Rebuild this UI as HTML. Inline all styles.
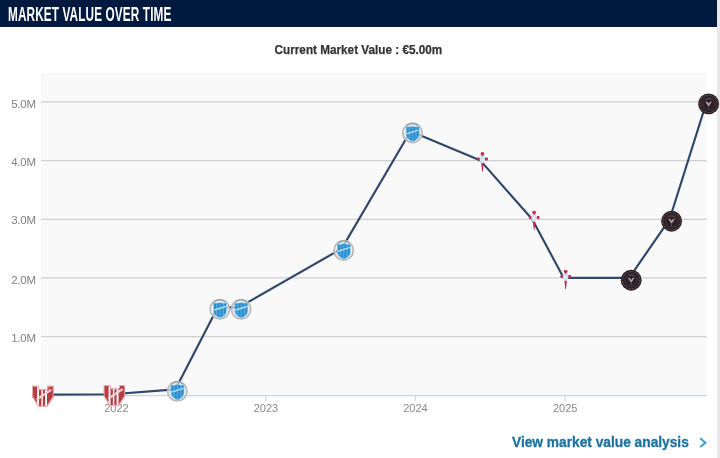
<!DOCTYPE html>
<html lang="en">
<head>
<meta charset="utf-8">
<title>Market value over time</title>
<style>
html,body{margin:0;padding:0;}
body{width:720px;height:458px;overflow:hidden;background:#e8e8e8;font-family:"Liberation Sans",sans-serif;position:relative;}
#box{will-change:transform;position:absolute;left:0;top:0;width:716.8px;height:458px;background:#fff;}
#hdr{position:absolute;left:0;top:0;width:716.8px;height:26.5px;background:#00193f;}
#hdr h2{position:absolute;left:8px;top:1px;margin:0;font-weight:bold;font-size:20.9px;line-height:26px;color:#fff;white-space:nowrap;transform-origin:0 50%;transform:scaleX(0.5645);letter-spacing:0.2px;}
#cur{position:absolute;left:0;top:40.1px;width:716px;text-align:center;font-weight:bold;font-size:12.8px;line-height:20px;color:#333;-webkit-text-stroke:0.25px #333;white-space:nowrap;}
#lnk{position:absolute;left:511.6px;top:430.7px;font-weight:bold;font-size:15.4px;line-height:22px;color:#1f72a0;-webkit-text-stroke:0.35px #1f72a0;white-space:nowrap;text-decoration:none;}
svg{position:absolute;left:0;top:0;}
.ax{font-family:"Liberation Sans",sans-serif;font-size:11px;fill:#888;}
#curt{display:inline-block;transform:scaleX(0.917);transform-origin:50% 50%;}
#lnkt{display:inline-block;transform:scaleX(0.892);transform-origin:0 50%;}
</style>
</head>
<body>
<div id="box">
<div id="hdr"><h2 id="ttl">MARKET VALUE OVER TIME</h2></div>
<div id="cur"><span id="curt">Current Market Value : €5.00m</span></div>
<svg width="720" height="458" viewBox="0 0 720 458">
<rect x="41" y="73" width="665.6" height="322.5" fill="#f9f9f9"/>
<g stroke="#d0d0d0" stroke-width="1.3">
<line x1="41" x2="707" y1="101.9" y2="101.9"/>
<line x1="41" x2="707" y1="160.6" y2="160.6"/>
<line x1="41" x2="707" y1="219.3" y2="219.3"/>
<line x1="41" x2="707" y1="277.9" y2="277.9"/>
<line x1="41" x2="707" y1="336.6" y2="336.6"/>
</g>
<line x1="41" x2="707" y1="395.6" y2="395.6" stroke="#cbd3e3" stroke-width="1.4"/>
<g stroke="#cdd4e2" stroke-width="1.1">
<line x1="116.3" x2="116.3" y1="395.5" y2="401"/>
<line x1="266" x2="266" y1="395.5" y2="401"/>
<line x1="415.5" x2="415.5" y1="395.5" y2="401"/>
<line x1="565.2" x2="565.2" y1="395.5" y2="401"/>
</g>
<g class="ax" text-anchor="end" style="font-size:11.5px;letter-spacing:-0.25px;fill:#808080">
<text x="35.8" y="107.6">5.0M</text>
<text x="35.8" y="165.9">4.0M</text>
<text x="35.8" y="223.9">3.0M</text>
<text x="35.8" y="283.9">2.0M</text>
<text x="35.8" y="341.9">1.0M</text>
</g>
<g class="ax" text-anchor="middle">
<text x="116.4" y="412.2">2022</text>
<text x="266" y="412.2">2023</text>
<text x="415.5" y="412.2">2024</text>
<text x="565.2" y="412.2">2025</text>
</g>
<polyline id="ln" fill="none" stroke="#2f4768" stroke-width="2.15" stroke-linejoin="round" stroke-linecap="round"
 points="41,394.6 112.4,394.3 175.3,389.4 217.8,307.3 239.1,307.3 341.7,248.6 410.5,131.2 480.5,160.6 532.2,219.3 563.7,277.9 629.2,277.9 669.6,219.3 706.6,101.9"/>
<!--MK-->
<g id="markers">
<defs><clipPath id="cI"><path d="M-10.8,-10.5 L-3.9,-10.5 L-3.9,-7.4 Q0.3,-6.2 4.6,-7.4 L4.6,-10.5 L10.8,-10.5 L10.8,0.6 L4.3,10.5 L-4.5,10.5 L-10.8,0.6 Z"/></clipPath></defs>
<g transform="translate(42.9,396.2)"><g clip-path="url(#cI)"><rect x="-11" y="-11" width="22" height="22" fill="#ba3b41"/><rect x="-5.8" y="-11" width="1.9" height="22" fill="#fff"/><rect x="-1.5" y="-11" width="1.4" height="22" fill="#fff"/><rect x="2.2" y="-11" width="1.9" height="22" fill="#fff"/><line x1="-6.2" y1="3.1" x2="8.2" y2="-6.4" stroke="#fbecec" stroke-width="2.0"/><line x1="-6.2" y1="3.1" x2="8.2" y2="-6.4" stroke="#cf6b70" stroke-width="0.8" stroke-dasharray="1.2 1.6"/><path d="M-10.8,-10.5 L-3.9,-10.5 L-3.9,-7.4 Q0.3,-6.2 4.6,-7.4 L4.6,-10.5 L10.8,-10.5 L10.8,0.6 L4.3,10.5 L-4.5,10.5 L-10.8,0.6 Z" fill="none" stroke="#eeb0b3" stroke-width="2.0" stroke-linejoin="round"/></g></g>
<g transform="translate(114.4,395.5)"><g clip-path="url(#cI)"><rect x="-11" y="-11" width="22" height="22" fill="#ba3b41"/><rect x="-5.8" y="-11" width="1.9" height="22" fill="#fff"/><rect x="-1.5" y="-11" width="1.4" height="22" fill="#fff"/><rect x="2.2" y="-11" width="1.9" height="22" fill="#fff"/><line x1="-6.2" y1="3.1" x2="8.2" y2="-6.4" stroke="#fbecec" stroke-width="2.0"/><line x1="-6.2" y1="3.1" x2="8.2" y2="-6.4" stroke="#cf6b70" stroke-width="0.8" stroke-dasharray="1.2 1.6"/><path d="M-10.8,-10.5 L-3.9,-10.5 L-3.9,-7.4 Q0.3,-6.2 4.6,-7.4 L4.6,-10.5 L10.8,-10.5 L10.8,0.6 L4.3,10.5 L-4.5,10.5 L-10.8,0.6 Z" fill="none" stroke="#eeb0b3" stroke-width="2.0" stroke-linejoin="round"/></g></g>
<g transform="translate(177.3,391.2)"><circle r="9.6" fill="#f6f6f6" fill-opacity="0.3" stroke="#b9b9b9" stroke-width="1.9"/><circle r="8.2" fill="none" stroke="#ececec" stroke-width="1.0" stroke-opacity="0.7"/><path d="M-5.6,-7.3 A9.2,9.2 0 0 1 5.9,-7.1" fill="none" stroke="#979da3" stroke-width="1.7" stroke-dasharray="1.3 0.6"/><path d="M-6.4,-6.6 Q-3.2,-5.4 0.2,-6.9 Q3.6,-5.4 6.8,-6.6 L6.8,1.6 C6.8,5.4 3,7.7 0.2,8.9 C-2.6,7.7 -6.4,5.4 -6.4,1.6 Z" fill="#2d8ecf" stroke="#a5d6f2" stroke-width="0.8"/><g stroke="#64b6e6" stroke-width="0.9"><line x1="-3.2" y1="-5.4" x2="-3.2" y2="5.8"/><line x1="0.1" y1="-6" x2="0.1" y2="8.2"/><line x1="3.5" y1="-5.4" x2="3.5" y2="5.8"/></g><line x1="-5.8" y1="1.0" x2="6.2" y2="-2.9" stroke="#bfe6fa" stroke-width="1.3"/></g>
<g transform="translate(219.8,309.2)"><circle r="9.6" fill="#f6f6f6" fill-opacity="0.3" stroke="#b9b9b9" stroke-width="1.9"/><circle r="8.2" fill="none" stroke="#ececec" stroke-width="1.0" stroke-opacity="0.7"/><path d="M-5.6,-7.3 A9.2,9.2 0 0 1 5.9,-7.1" fill="none" stroke="#979da3" stroke-width="1.7" stroke-dasharray="1.3 0.6"/><path d="M-6.4,-6.6 Q-3.2,-5.4 0.2,-6.9 Q3.6,-5.4 6.8,-6.6 L6.8,1.6 C6.8,5.4 3,7.7 0.2,8.9 C-2.6,7.7 -6.4,5.4 -6.4,1.6 Z" fill="#2d8ecf" stroke="#a5d6f2" stroke-width="0.8"/><g stroke="#64b6e6" stroke-width="0.9"><line x1="-3.2" y1="-5.4" x2="-3.2" y2="5.8"/><line x1="0.1" y1="-6" x2="0.1" y2="8.2"/><line x1="3.5" y1="-5.4" x2="3.5" y2="5.8"/></g><line x1="-5.8" y1="1.0" x2="6.2" y2="-2.9" stroke="#bfe6fa" stroke-width="1.3"/></g>
<g transform="translate(241.1,309.2)"><circle r="9.6" fill="#f6f6f6" fill-opacity="0.3" stroke="#b9b9b9" stroke-width="1.9"/><circle r="8.2" fill="none" stroke="#ececec" stroke-width="1.0" stroke-opacity="0.7"/><path d="M-5.6,-7.3 A9.2,9.2 0 0 1 5.9,-7.1" fill="none" stroke="#979da3" stroke-width="1.7" stroke-dasharray="1.3 0.6"/><path d="M-6.4,-6.6 Q-3.2,-5.4 0.2,-6.9 Q3.6,-5.4 6.8,-6.6 L6.8,1.6 C6.8,5.4 3,7.7 0.2,8.9 C-2.6,7.7 -6.4,5.4 -6.4,1.6 Z" fill="#2d8ecf" stroke="#a5d6f2" stroke-width="0.8"/><g stroke="#64b6e6" stroke-width="0.9"><line x1="-3.2" y1="-5.4" x2="-3.2" y2="5.8"/><line x1="0.1" y1="-6" x2="0.1" y2="8.2"/><line x1="3.5" y1="-5.4" x2="3.5" y2="5.8"/></g><line x1="-5.8" y1="1.0" x2="6.2" y2="-2.9" stroke="#bfe6fa" stroke-width="1.3"/></g>
<g transform="translate(343.7,250.4)"><circle r="9.6" fill="#f6f6f6" fill-opacity="0.3" stroke="#b9b9b9" stroke-width="1.9"/><circle r="8.2" fill="none" stroke="#ececec" stroke-width="1.0" stroke-opacity="0.7"/><path d="M-5.6,-7.3 A9.2,9.2 0 0 1 5.9,-7.1" fill="none" stroke="#979da3" stroke-width="1.7" stroke-dasharray="1.3 0.6"/><path d="M-6.4,-6.6 Q-3.2,-5.4 0.2,-6.9 Q3.6,-5.4 6.8,-6.6 L6.8,1.6 C6.8,5.4 3,7.7 0.2,8.9 C-2.6,7.7 -6.4,5.4 -6.4,1.6 Z" fill="#2d8ecf" stroke="#a5d6f2" stroke-width="0.8"/><g stroke="#64b6e6" stroke-width="0.9"><line x1="-3.2" y1="-5.4" x2="-3.2" y2="5.8"/><line x1="0.1" y1="-6" x2="0.1" y2="8.2"/><line x1="3.5" y1="-5.4" x2="3.5" y2="5.8"/></g><line x1="-5.8" y1="1.0" x2="6.2" y2="-2.9" stroke="#bfe6fa" stroke-width="1.3"/></g>
<g transform="translate(412.5,132.9)"><circle r="9.6" fill="#f6f6f6" fill-opacity="0.3" stroke="#b9b9b9" stroke-width="1.9"/><circle r="8.2" fill="none" stroke="#ececec" stroke-width="1.0" stroke-opacity="0.7"/><path d="M-5.6,-7.3 A9.2,9.2 0 0 1 5.9,-7.1" fill="none" stroke="#979da3" stroke-width="1.7" stroke-dasharray="1.3 0.6"/><path d="M-6.4,-6.6 Q-3.2,-5.4 0.2,-6.9 Q3.6,-5.4 6.8,-6.6 L6.8,1.6 C6.8,5.4 3,7.7 0.2,8.9 C-2.6,7.7 -6.4,5.4 -6.4,1.6 Z" fill="#2d8ecf" stroke="#a5d6f2" stroke-width="0.8"/><g stroke="#64b6e6" stroke-width="0.9"><line x1="-3.2" y1="-5.4" x2="-3.2" y2="5.8"/><line x1="0.1" y1="-6" x2="0.1" y2="8.2"/><line x1="3.5" y1="-5.4" x2="3.5" y2="5.8"/></g><line x1="-5.8" y1="1.0" x2="6.2" y2="-2.9" stroke="#bfe6fa" stroke-width="1.3"/></g>
<g transform="translate(482.5,161.8)"><path d="M-1.3,1 L1.2,1 L0.3,9.6 L-0.4,9.6 Z" fill="#c8244e"/><rect x="-1.1" y="-7" width="2.1" height="3" fill="#dc6484"/><ellipse cx="-0.05" cy="-8" rx="1.9" ry="1.7" fill="#c72b50"/><rect x="-5.4" y="-4.4" width="3.1" height="3" rx="0.9" fill="#c02d56"/><rect x="2.3" y="-4.4" width="3.1" height="3" rx="0.9" fill="#c02d56"/><path d="M-2.8,-5.5 L2.5,-5.5 L2.5,-1.2 Q2.5,0.9 -0.15,1.6 Q-2.8,0.9 -2.8,-1.2 Z" fill="#cfe1f3"/><circle cx="-0.15" cy="-2.2" r="1.2" fill="#e6eff8"/></g>
<g transform="translate(534.2,220.4)"><path d="M-1.3,1 L1.2,1 L0.3,9.6 L-0.4,9.6 Z" fill="#c8244e"/><rect x="-1.1" y="-7" width="2.1" height="3" fill="#dc6484"/><ellipse cx="-0.05" cy="-8" rx="1.9" ry="1.7" fill="#c72b50"/><rect x="-5.4" y="-4.4" width="3.1" height="3" rx="0.9" fill="#c02d56"/><rect x="2.3" y="-4.4" width="3.1" height="3" rx="0.9" fill="#c02d56"/><path d="M-2.8,-5.5 L2.5,-5.5 L2.5,-1.2 Q2.5,0.9 -0.15,1.6 Q-2.8,0.9 -2.8,-1.2 Z" fill="#cfe1f3"/><circle cx="-0.15" cy="-2.2" r="1.2" fill="#e6eff8"/></g>
<g transform="translate(565.7,279.4)"><path d="M-1.3,1 L1.2,1 L0.3,9.6 L-0.4,9.6 Z" fill="#c8244e"/><rect x="-1.1" y="-7" width="2.1" height="3" fill="#dc6484"/><ellipse cx="-0.05" cy="-8" rx="1.9" ry="1.7" fill="#c72b50"/><rect x="-5.4" y="-4.4" width="3.1" height="3" rx="0.9" fill="#c02d56"/><rect x="2.3" y="-4.4" width="3.1" height="3" rx="0.9" fill="#c02d56"/><path d="M-2.8,-5.5 L2.5,-5.5 L2.5,-1.2 Q2.5,0.9 -0.15,1.6 Q-2.8,0.9 -2.8,-1.2 Z" fill="#cfe1f3"/><circle cx="-0.15" cy="-2.2" r="1.2" fill="#e6eff8"/></g>
<g transform="translate(631.2,280.2)"><circle r="10.45" fill="#2b2025"/><circle r="8.7" fill="none" stroke="#6b555d" stroke-width="1.1" stroke-dasharray="0.8 0.7"/><circle r="6.1" fill="none" stroke="#4b3a41" stroke-width="0.8"/><path d="M-3.4,-2.5 L-1.3,-2.1 L0,-0.3 L1.3,-2.1 L3.3,-2.5 L0.7,1.9 L0,2.4 L-0.7,1.9 Z" fill="#b59ca5"/><path d="M-0.4,2 L0.4,2 L0.3,5.2 L-0.3,5.2 Z" fill="#6a555d"/><path d="M-2.9,-4.3 A5.2,5.2 0 0 1 2.9,-4.3" fill="none" stroke="#86697399" stroke-width="1"/></g>
<g transform="translate(671.6,221.2)"><circle r="10.45" fill="#2b2025"/><circle r="8.7" fill="none" stroke="#6b555d" stroke-width="1.1" stroke-dasharray="0.8 0.7"/><circle r="6.1" fill="none" stroke="#4b3a41" stroke-width="0.8"/><path d="M-3.4,-2.5 L-1.3,-2.1 L0,-0.3 L1.3,-2.1 L3.3,-2.5 L0.7,1.9 L0,2.4 L-0.7,1.9 Z" fill="#b59ca5"/><path d="M-0.4,2 L0.4,2 L0.3,5.2 L-0.3,5.2 Z" fill="#6a555d"/><path d="M-2.9,-4.3 A5.2,5.2 0 0 1 2.9,-4.3" fill="none" stroke="#86697399" stroke-width="1"/></g>
<g transform="translate(708.6,103.9)"><circle r="10.45" fill="#2b2025"/><circle r="8.7" fill="none" stroke="#6b555d" stroke-width="1.1" stroke-dasharray="0.8 0.7"/><circle r="6.1" fill="none" stroke="#4b3a41" stroke-width="0.8"/><path d="M-3.4,-2.5 L-1.3,-2.1 L0,-0.3 L1.3,-2.1 L3.3,-2.5 L0.7,1.9 L0,2.4 L-0.7,1.9 Z" fill="#b59ca5"/><path d="M-0.4,2 L0.4,2 L0.3,5.2 L-0.3,5.2 Z" fill="#6a555d"/><path d="M-2.9,-4.3 A5.2,5.2 0 0 1 2.9,-4.3" fill="none" stroke="#86697399" stroke-width="1"/></g>
</g>
<!--/MK-->
</svg>
<a id="lnk"><span id="lnkt">View market value analysis</span></a>
<svg width="720" height="458" viewBox="0 0 720 458" style="pointer-events:none"><polyline points="700.2,438.3 705.4,442.7 700.2,447.1" fill="none" stroke="#3c9fd3" stroke-width="2"/></svg>
</div>
</body>
</html>
